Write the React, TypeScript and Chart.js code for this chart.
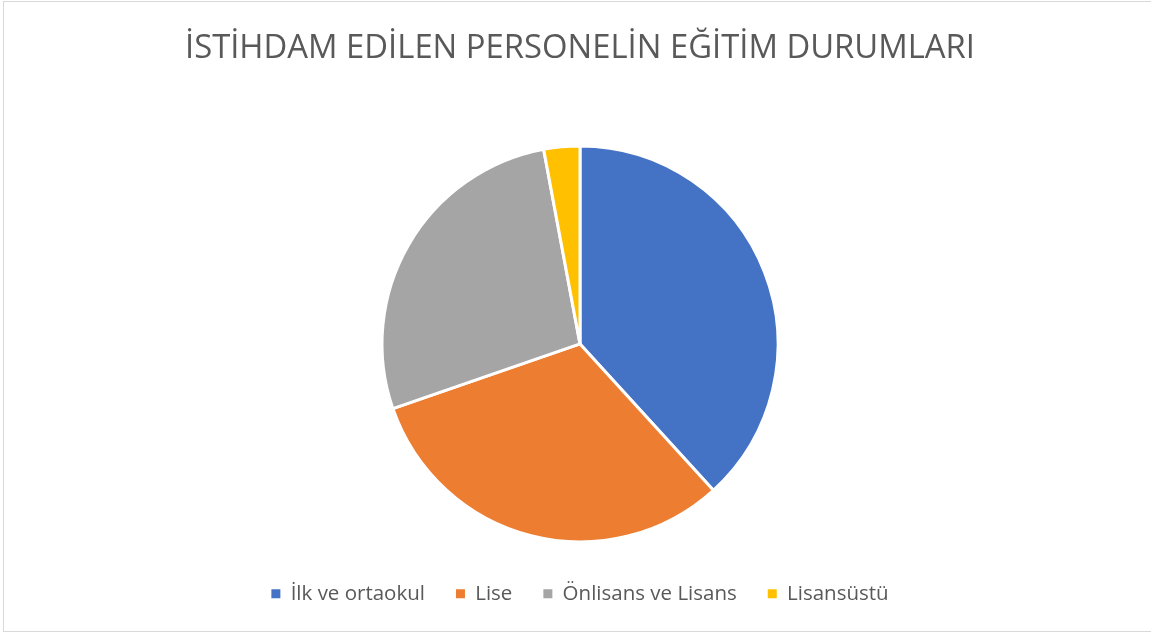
import React, { useEffect, useRef } from "react";
import { Chart, registerables } from "chart.js";

Chart.register(...registerables);

const TITLE = "İSTİHDAM EDİLEN PERSONELİN EĞİTİM DURUMLARI";
const categories = ["İlk ve ortaokul", "Lise", "Önlisans ve Lisans", "Lisansüstü"];
const values = [130, 107, 93, 10];
const colors = ["#4472C4", "#ED7D31", "#A5A5A5", "#FFC000"];

export default function App() {
  const ref = useRef<HTMLCanvasElement | null>(null);

  useEffect(() => {
    if (!ref.current) return;
    const defaultGen = (Chart as any).overrides.pie.plugins.legend.labels.generateLabels;
    const chart = new Chart(ref.current, {
      type: "pie",
      data: {
        labels: categories,
        datasets: [
          {
            data: values,
            backgroundColor: colors,
            borderColor: "#ffffff",
            borderWidth: 3,
            radius: 198,
          },
        ],
      },
      options: {
        animation: false,
        responsive: false,
        layout: { padding: { left: 9, right: 0, top: 0, bottom: 19 } },
        plugins: {
          title: {
            display: true,
            text: TITLE,
            color: "#595959",
            font: { family: "'Open Sans', sans-serif", size: 32.8, weight: "normal" },
            padding: { top: 29, bottom: 67 },
          },
          legend: {
            display: true,
            position: "bottom",
            labels: {
              color: "#595959",
              font: { family: "'Open Sans', sans-serif", size: 20.5 },
              boxWidth: 9,
              boxHeight: 9,
              padding: 31,
              generateLabels: (c: any) =>
                defaultGen(c).map((l: any) => ({ ...l, lineWidth: 0, strokeStyle: l.fillStyle })),
            },
          },
          tooltip: { enabled: false },
        },
      },
    });
    return () => chart.destroy();
  }, []);

  return (
    <div style={{ position: "absolute", left: 0, top: 0, width: 1151, height: 633, background: "#fff", overflow: "hidden" }}>
      <canvas ref={ref} width={1151} height={633} style={{ position: "absolute", left: 0, top: 0 }} />
      <div
        style={{
          position: "absolute",
          left: 3,
          top: 1,
          width: 1160,
          height: 629,
          border: "1px solid #d9d9d9",
          pointerEvents: "none",
        }}
      />
    </div>
  );
}
